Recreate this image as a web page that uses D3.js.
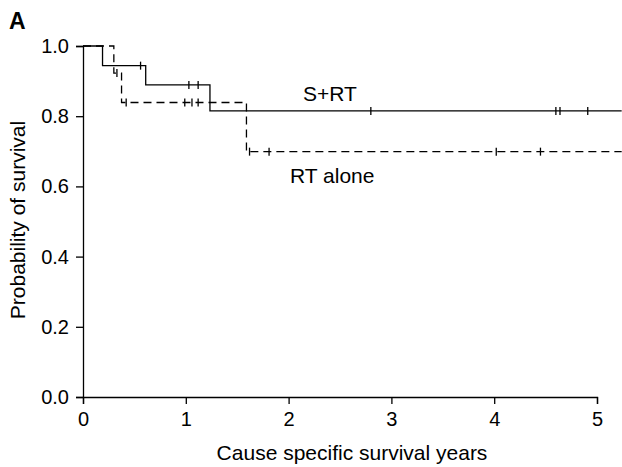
<!DOCTYPE html>
<html>
<head>
<meta charset="utf-8">
<script src="https://cdn.jsdelivr.net/npm/d3@7"></script>
<style>
  body { margin: 0; background: #fff; }
  text { font-family: "Liberation Sans", Arial, sans-serif; fill: #000; }
</style>
</head>
<body>
<svg id="km" width="622" height="467"></svg>
<script>
// Kaplan-Meier curves
var xTicks = [0, 1, 2, 3, 4, 5],
    yTicks = [0, 0.2, 0.4, 0.6, 0.8, 1.0];

// step curves: [time, survival after time]
var srtSteps = [[0, 1.0], [0.19, 0.944], [0.61, 0.889], [1.235, 0.815]],
    srtCensor = [0.56, 1.03, 1.12, 2.80, 4.60, 4.64, 4.91];

var rtSteps = [[0, 1.0], [0.30, 0.923], [0.375, 0.839], [1.59, 0.699]],
    rtCensor = [0.33, 0.42, 0.99, 1.06, 1.12, 1.62, 1.81, 4.02, 4.45];

var endTime = 5.24;

var svg = d3.select("#km");

var x = d3.scaleLinear().domain([0, 5]).range([83, 597]),
    y = d3.scaleLinear().domain([0, 1]).range([397, 46]);

// axes
svg.append("g")
    .attr("transform", "translate(0," + y(0) + ")")
    .call(d3.axisBottom(x).tickValues(xTicks).tickSize(7).tickPadding(8).tickFormat(d3.format("d")))
    .call(styleAxis);

svg.append("g")
    .attr("transform", "translate(" + x(0) + ",0)")
    .call(d3.axisLeft(y).tickValues(yTicks).tickSize(7).tickPadding(7).tickFormat(d3.format(".1f")))
    .call(styleAxis);

function styleAxis(g) {
    g.select(".domain").attr("stroke", "#000").attr("stroke-width", 1.3);
    g.selectAll(".tick line").attr("stroke", "#000").attr("stroke-width", 1.3);
    g.selectAll(".tick text").attr("font-size", 20).attr("font-family", "Liberation Sans, Arial, sans-serif");
}

// survival at time t
function survAt(steps, t) {
    var s = steps[0][1];
    steps.forEach(function (d) { if (d[0] <= t) s = d[1]; });
    return s;
}

var stepLine = d3.line()
    .x(function (d) { return x(d[0]); })
    .y(function (d) { return y(d[1]); })
    .curve(d3.curveStepAfter);

function drawCurve(steps, censor, dash) {
    var pts = steps.concat([[endTime, steps[steps.length - 1][1]]]);
    svg.append("path")
        .attr("d", stepLine(pts))
        .attr("fill", "none")
        .attr("stroke", "#000")
        .attr("stroke-width", 1.3)
        .attr("stroke-dasharray", dash);

    svg.selectAll(null)
        .data(censor)
        .enter().append("line")
        .attr("x1", function (d) { return x(d); })
        .attr("x2", function (d) { return x(d); })
        .attr("y1", function (d) { return y(survAt(steps, d)) - 4; })
        .attr("y2", function (d) { return y(survAt(steps, d)) + 4; })
        .attr("stroke", "#000")
        .attr("stroke-width", 1.3);
}

drawCurve(srtSteps, srtCensor, null);
drawCurve(rtSteps, rtCensor, "8,5");

// labels
svg.append("text")
    .attr("x", 303).attr("y", 101)
    .attr("font-size", 21)
    .text("S+RT");

svg.append("text")
    .attr("x", 290).attr("y", 183)
    .attr("font-size", 21)
    .text("RT alone");

svg.append("text")
    .attr("x", 352).attr("y", 460)
    .attr("text-anchor", "middle")
    .attr("font-size", 21)
    .text("Cause specific survival years");

svg.append("text")
    .attr("transform", "translate(25," + 220 + ") rotate(-90)")
    .attr("text-anchor", "middle")
    .attr("font-size", 21)
    .text("Probability of survival");

svg.append("text")
    .attr("x", 9).attr("y", 29)
    .attr("font-size", 23)
    .attr("font-weight", "bold")
    .text("A");
</script>
</body>
</html>
